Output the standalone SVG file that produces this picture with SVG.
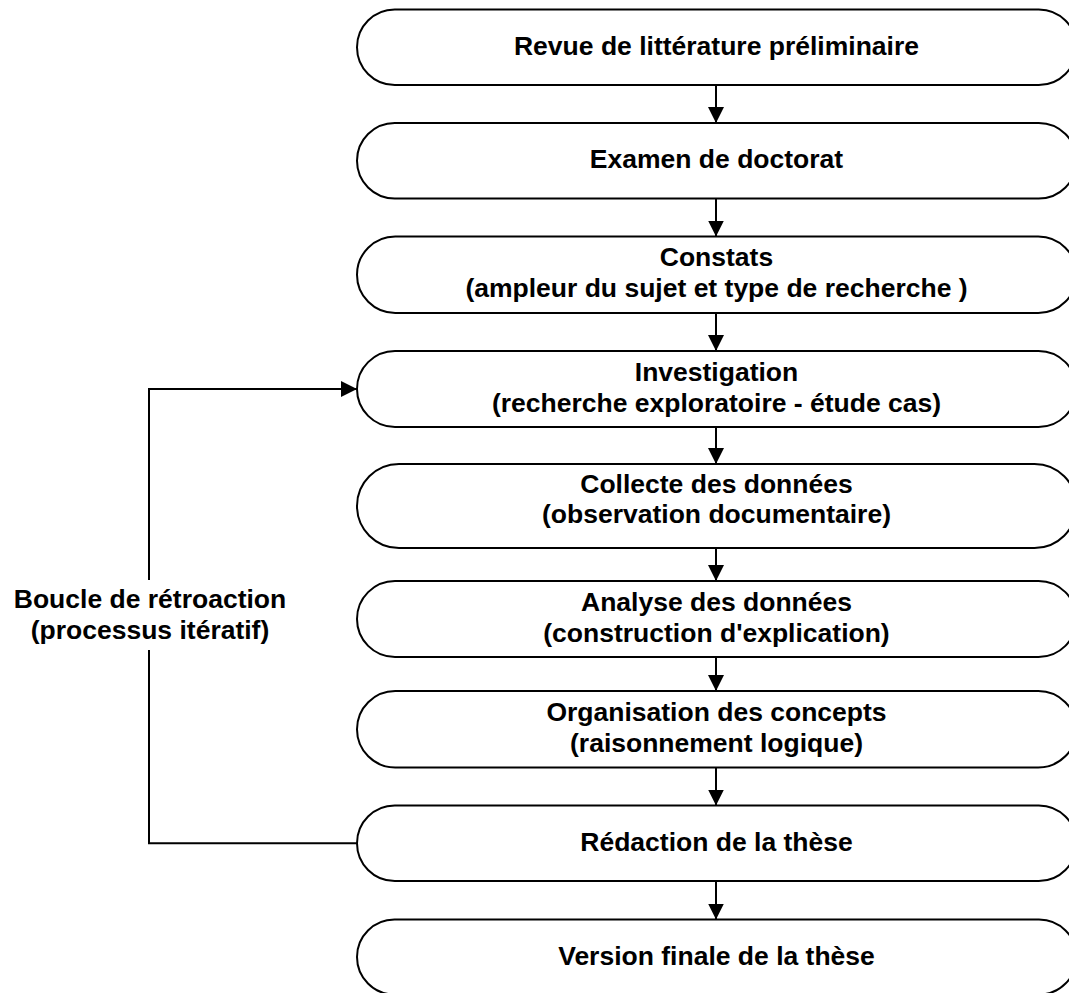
<svg xmlns="http://www.w3.org/2000/svg" width="1069" height="993" viewBox="0 0 1069 993">
<defs>
<style>
.node{fill:#fff;stroke:#000;stroke-width:2}
.t{font-family:"Liberation Sans",Arial,sans-serif;font-weight:bold;font-size:26.5px;fill:#000;text-anchor:middle}
.c{fill:none;stroke:#000;stroke-width:2}
</style>
<marker id="ah" markerWidth="16" markerHeight="16" refX="16" refY="8" orient="auto" markerUnits="userSpaceOnUse"><path d="M0,0 L16,8 L0,16 z" fill="#000"/></marker>
</defs>
<rect width="1069" height="993" fill="#fff"/>
<g id="connectors">
<line class="c" x1="716" y1="85.5" x2="716" y2="123" marker-end="url(#ah)"/>
<line class="c" x1="716" y1="198.5" x2="716" y2="236.5" marker-end="url(#ah)"/>
<line class="c" x1="716" y1="313" x2="716" y2="351" marker-end="url(#ah)"/>
<line class="c" x1="716" y1="427" x2="716" y2="464" marker-end="url(#ah)"/>
<line class="c" x1="716" y1="548" x2="716" y2="581" marker-end="url(#ah)"/>
<line class="c" x1="716" y1="657" x2="716" y2="691" marker-end="url(#ah)"/>
<line class="c" x1="716" y1="767.5" x2="716" y2="805.5" marker-end="url(#ah)"/>
<line class="c" x1="716" y1="881" x2="716" y2="919.5" marker-end="url(#ah)"/>
<polyline class="c" points="357,843.3 149,843.3 149,650"/>
<polyline class="c" points="149,580 149,389 357,389" marker-end="url(#ah)"/>
<g id="loop-label">
<text class="t" x="150" y="608">Boucle de rétroaction</text>
<text class="t" x="150" y="639">(processus itératif)</text>
</g>
</g>
<g id="n1"><rect class="node" x="357" y="9.5" width="719.5" height="75.5" rx="37.75"/><text class="t" x="716.5" y="54.5">Revue de littérature préliminaire</text></g>
<g id="n2"><rect class="node" x="357" y="123" width="719.5" height="75.5" rx="37.75"/><text class="t" x="716.5" y="168">Examen de doctorat</text></g>
<g id="n3"><rect class="node" x="357" y="236.5" width="719.5" height="76.5" rx="38.25"/><text class="t" x="716.5" y="266">Constats</text><text class="t" x="716.5" y="297">(ampleur du sujet et type de recherche )</text></g>
<g id="n4"><rect class="node" x="357" y="351" width="719.5" height="76" rx="38"/><text class="t" x="716.5" y="380.5">Investigation</text><text class="t" x="716.5" y="411.5">(recherche exploratoire - étude cas)</text></g>
<g id="n5"><rect class="node" x="357" y="464" width="719.5" height="84" rx="42"/><text class="t" x="716.5" y="493">Collecte des données</text><text class="t" x="716.5" y="523">(observation documentaire)</text></g>
<g id="n6"><rect class="node" x="357" y="581" width="719.5" height="76" rx="38"/><text class="t" x="716.5" y="610.5">Analyse des données</text><text class="t" x="716.5" y="641.5">(construction d'explication)</text></g>
<g id="n7"><rect class="node" x="357" y="691" width="719.5" height="76.5" rx="38.25"/><text class="t" x="716.5" y="721">Organisation des concepts</text><text class="t" x="716.5" y="752">(raisonnement logique)</text></g>
<g id="n8"><rect class="node" x="357" y="805.5" width="719.5" height="75.5" rx="37.75"/><text class="t" x="716.5" y="850.5">Rédaction de la thèse</text></g>
<g id="n9"><rect class="node" x="357" y="919.5" width="719.5" height="75" rx="37.5"/><text class="t" x="716.5" y="965">Version finale de la thèse</text></g>
</svg>
